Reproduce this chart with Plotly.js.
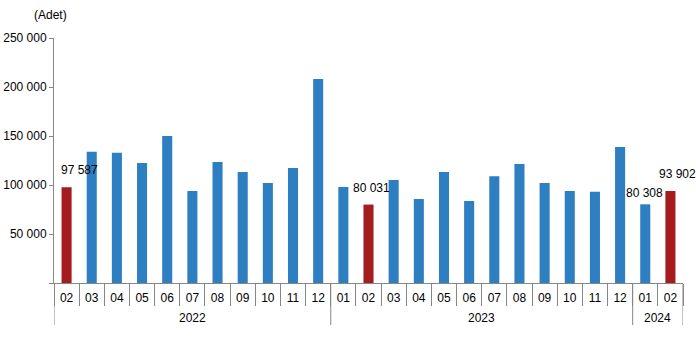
<!DOCTYPE html>
<html>
<head>
<meta charset="utf-8">
<script src="https://cdn.plot.ly/plotly-3.0.1.min.js"></script>
<style>html,body{margin:0;padding:0;background:#fff;}#chart{width:696px;height:355px;}</style>
</head>
<body>
<div id="chart"></div>
<script>
// Data
const years  = ['2022','2022','2022','2022','2022','2022','2022','2022','2022','2022','2022',
                '2023','2023','2023','2023','2023','2023','2023','2023','2023','2023','2023','2023',
                '2024','2024'];
const months = ['02','03','04','05','06','07','08','09','10','11','12',
                '01','02','03','04','05','06','07','08','09','10','11','12',
                '01','02'];
const values = [97587,134000,133000,122500,150000,94000,123500,113300,102000,117300,208200,
                98000,80031,105000,85700,113300,83700,109000,121400,102000,94000,93000,138800,
                80308,93902];
const yTickVals = [0,50000,100000,150000,200000,250000];
const yTickText = ['','50 000','100 000','150 000','200 000','250 000'];
// labelled bars: index into the arrays above, with label text
const labelIdx  = [0,12,23,24];
const labelText = ['97 587','80 031','80 308','93 902'];

const BLUE = '#2E7EC2', RED = '#A51C1F', AXIS = '#868686';
const FONT = 'Liberation Sans, Arial, sans-serif';
const idx = months.map((m,i)=>i);
const colors = months.map(m => (m==='02' ? RED : BLUE));

// year groups derived from the data
const groups = [];
years.forEach((y,i)=>{
  if(!groups.length || groups[groups.length-1].year!==y) groups.push({year:y, start:i, end:i});
  else groups[groups.length-1].end = i;
});

const PLOT_H = 355-38-72;
const shapes = [];
groups.forEach((g,k)=>{
  const bounds = k===0 ? [g.start-0.5, g.end+0.5] : [g.end+0.5];
  bounds.forEach(b=>shapes.push({
    type:'line', xref:'x', yref:'paper', x0:b, x1:b, y0:0, y1:-42/PLOT_H,
    line:{color:AXIS, width:1}
  }));
});

const trace = {
  type:'bar', x:idx, y:values,
  marker:{color:colors}, width:0.4, hoverinfo:'none'
};

const labelShift = [[13,8],[3,8],[-1,2],[7,8]];
const annotations = labelIdx.map((i,k)=>({
  x:i, y:values[i], xref:'x', yref:'y',
  text:labelText[k], showarrow:false, xanchor:'center', yanchor:'bottom',
  xshift:labelShift[k][0], yshift:labelShift[k][1],
  font:{family:FONT, size:12, color:'#000'}
}));
groups.forEach(g=>annotations.push({
  x:(g.start+g.end)/2, y:0, xref:'x', yref:'paper',
  text:g.year, showarrow:false, xanchor:'center', yanchor:'middle', yshift:-35,
  font:{family:FONT, size:12, color:'#000'}
}));
annotations.push({
  xref:'paper', yref:'paper', x:-0.005, y:1.0, yshift:23,
  xanchor:'center', yanchor:'middle', showarrow:false,
  text:'(Adet)', font:{family:FONT, size:12, color:'#000'}
});

const layout = {
  width:696, height:355,
  margin:{l:54, r:13, t:38, b:72},
  paper_bgcolor:'#fff', plot_bgcolor:'#fff',
  showlegend:false,
  font:{family:FONT, size:12, color:'#000'},
  xaxis:{
    range:[-0.5, months.length-0.5],
    tickmode:'array', tickvals:idx, ticktext:months,
    ticks:'', ticklabelstandoff:4,
    minor:{ticks:'outside', tick0:-0.5, dtick:1, ticklen:22, tickcolor:AXIS, tickwidth:1, showgrid:false},
    showline:true, linecolor:AXIS, linewidth:1,
    showgrid:false, zeroline:false,
    tickfont:{size:12, color:'#000'}
  },
  yaxis:{
    range:[0,250000],
    tickvals:yTickVals, ticktext:yTickText,
    showline:true, linecolor:AXIS, linewidth:1,
    ticks:'outside', ticklen:4, tickcolor:AXIS,
    showgrid:false, zeroline:false,
    tickfont:{size:12, color:'#000'}
  },
  shapes:shapes,
  annotations:annotations
};

Plotly.newPlot('chart',[trace],layout,{displayModeBar:false, staticPlot:true});
</script>
</body>
</html>
